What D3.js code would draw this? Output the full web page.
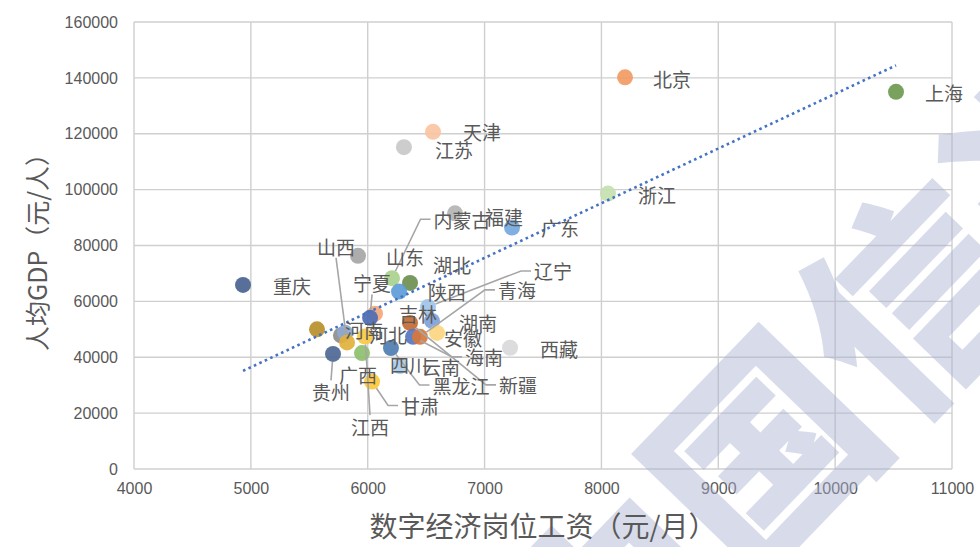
<!DOCTYPE html>
<html>
<head>
<meta charset="utf-8">
<script src="https://cdn.jsdelivr.net/npm/d3@7"></script>
<style>
  html, body { margin: 0; padding: 0; background: #ffffff; }
  svg { display: block; }
</style>
</head>
<body>
<svg id="chart" width="980" height="547"></svg>
<script>
// ---- data ----
const provinces = ["北京","上海","天津","江苏","浙江","福建","广东","重庆","山东","内蒙古",
  "湖北","陕西","吉林","宁夏","辽宁","湖南","新疆","海南","青海","安徽","西藏","河南",
  "河北","四川","山西","江西","贵州","广西","黑龙江","云南","甘肃"];
// 数字经济岗位工资（元/月）
const wages = [8202,10521,6559,6310,8056,6747,7235,4933,5917,6208,
  6362,6268,6062,6020,6516,6550,6362,6388,6447,6593,7218,5566,
  5771,5806,5823,5977,5703,5951,6199,6276,6037];
// 人均GDP（元/人）
const gdpPerCapita = [140200,135000,120700,115200,98600,91500,86400,65900,76300,68300,
  66600,63500,55600,54100,58000,53000,52300,47300,47300,48700,43400,50000,
  47800,48800,45300,47400,41200,41500,43300,36800,31300];
const pointColors = ["#F29B63","#6E9A50","#F8C4A2","#C9C9C9","#C4DFB0","#B4B4B4","#74A9DE","#4A6391","#A6A6A6","#A9D18E",
  "#6D8F50","#5E9CD8","#F4A67A","#4B6DB4","#9FC3E8","#7FA2DB","#C46B32","#5577C0","#D7773C","#FCD580","#D9D9D9","#B8902A",
  "#8D8D8D","#8FA8D0","#E2B13C","#F7C948","#4E6794","#8DC06C","#4E7DB0","#A9CCEA","#FFC83A"];
const xTicks = [4000,5000,6000,7000,8000,9000,10000,11000];
const yTicks = [0,20000,40000,60000,80000,100000,120000,140000,160000];
const xTitle = "数字经济岗位工资（元/月）";
const yTitle = "人均GDP（元/人）";

// ---- label layout: offset of each label centre from its point (px) ----
const labelOffsets = {
  北京:[47,1], 上海:[48,1], 天津:[49,0], 江苏:[50,2], 浙江:[49,1], 福建:[49,3], 广东:[48,0],
  重庆:[49,1], 山东:[47,1], 内蒙古:[70,-59], 湖北:[42,-18], 陕西:[48,0], 吉林:[43,0],
  宁夏:[2,-35], 辽宁:[125,-36], 湖南:[46,2], 新疆:[108,62], 海南:[71,20], 青海:[97,-47],
  安徽:[26,5], 西藏:[49,1], 河南:[47,0], 河北:[47,-1], 四川:[64,32], 山西:[-11,-96],
  江西:[5,90], 贵州:[-2,38], 广西:[-4,21], 黑龙江:[70,37], 云南:[41,0], 甘肃:[48,24]
};
// labels that were moved away from their point get a leader line from this side
const leaderAnchors = {
  内蒙古:"left", 山西:"bottom", 宁夏:"bottom", 辽宁:"left", 青海:"left", 黑龙江:"left",
  新疆:"left", 海南:"left", 贵州:"top", 江西:"top", 甘肃:"left"
};

// ---- layout ----
const W = 980, H = 547;
const plot = { left: 134, right: 952, top: 22, bottom: 469 };
const svg = d3.select("#chart");
const cjk = "'Noto Sans CJK SC', 'Noto Sans', sans-serif";
const textColor = "#595959";

const x = d3.scaleLinear().domain([4000, 11000]).range([plot.left, plot.right]);
const y = d3.scaleLinear().domain([0, 160000]).range([plot.bottom, plot.top]);

svg.append("rect").attr("width", W).attr("height", H).attr("fill", "#ffffff");

// gridlines
const grid = svg.append("g").attr("stroke", "#CFCFCF").attr("stroke-width", 1.4);
grid.selectAll("line.v").data(xTicks).join("line").attr("class", "v")
  .attr("x1", d => x(d)).attr("x2", d => x(d))
  .attr("y1", plot.top).attr("y2", plot.bottom);
grid.selectAll("line.h").data(yTicks).join("line").attr("class", "h")
  .attr("x1", plot.left).attr("x2", plot.right)
  .attr("y1", d => y(d)).attr("y2", d => y(d));

// axes (tick labels only; domain lines coincide with outer gridlines)
const xAxis = d3.axisBottom(x).tickValues(xTicks).tickSize(0).tickPadding(14).tickFormat(d3.format("d"));
const yAxis = d3.axisLeft(y).tickValues(yTicks).tickSize(0).tickPadding(16).tickFormat(d3.format("d"));
const gx = svg.append("g").attr("transform", `translate(0,${plot.bottom})`).call(xAxis);
const gy = svg.append("g").attr("transform", `translate(${plot.left},0)`).call(yAxis);
[gx, gy].forEach(g => {
  g.select(".domain").remove();
  g.selectAll("text").attr("fill", textColor).attr("font-size", 16)
    .attr("font-family", "'Liberation Sans', 'Noto Sans', sans-serif");
});

// watermark (sits under the marks, semi-transparent)
svg.append("text")
  .attr("transform", "translate(598,742) rotate(-46)")
  .attr("font-family", cjk).attr("font-weight", 900).attr("font-size", 215)
  .attr("fill", "#A9B0CE").attr("fill-opacity", 0.45)
  .attr("pointer-events", "none")
  .text("中国信通院");

// points
const data = provinces.map((p, i) => ({ name: p, wage: wages[i], gdp: gdpPerCapita[i], color: pointColors[i] }));
const R = 8;
svg.append("g").selectAll("circle").data(data).join("circle")
  .attr("cx", d => x(d.wage)).attr("cy", d => y(d.gdp)).attr("r", R)
  .attr("fill", d => d.color).attr("fill-opacity", 0.92);

// linear trendline (least squares) across the wage range
const mx = d3.mean(wages), my = d3.mean(gdpPerCapita);
const sxy = d3.sum(wages, (w, i) => (w - mx) * (gdpPerCapita[i] - my));
const sxx = d3.sum(wages, w => (w - mx) * (w - mx));
const slope = sxy / sxx, intercept = my - slope * mx;
const [wMin, wMax] = d3.extent(wages);
svg.append("line")
  .attr("x1", x(wMin)).attr("y1", y(intercept + slope * wMin))
  .attr("x2", x(wMax)).attr("y2", y(intercept + slope * wMax))
  .attr("stroke", "#4472C4").attr("stroke-width", 2.6)
  .attr("stroke-dasharray", "2.6,3.4");

// data labels + leader lines
const labelSize = 19;
const labels = data.map(d => {
  const off = labelOffsets[d.name];
  const w = d.name.length * labelSize;
  return { ...d, px: x(d.wage), py: y(d.gdp), cx: x(d.wage) + off[0], cy: y(d.gdp) + off[1], w };
});
const leaders = svg.append("g").attr("fill", "none").attr("stroke", "#A6A6A6").attr("stroke-width", 1.6);
labels.filter(d => leaderAnchors[d.name]).forEach(d => {
  const side = leaderAnchors[d.name];
  let pts;
  if (side === "left") {
    const sx = d.cx - d.w / 2 - 3;
    pts = [[sx, d.cy], [sx - 10, d.cy]];
  } else if (side === "top") {
    pts = [[d.cx, d.cy - labelSize / 2 - 2]];
  } else {
    pts = [[d.cx, d.cy + labelSize / 2 + 2]];
  }
  const last = pts[pts.length - 1];
  const ang = Math.atan2(last[1] - d.py, last[0] - d.px);
  pts.push([d.px + Math.cos(ang) * R, d.py + Math.sin(ang) * R]);
  leaders.append("path").attr("d", d3.line()(pts));
});
svg.append("g").selectAll("text").data(labels).join("text")
  .attr("x", d => d.cx).attr("y", d => d.cy)
  .attr("text-anchor", "middle").attr("dominant-baseline", "central")
  .attr("font-family", cjk).attr("font-size", labelSize).attr("fill", textColor)
  .text(d => d.name);

// axis titles
svg.append("text").attr("x", (plot.left + plot.right) / 2).attr("y", 525)
  .attr("text-anchor", "middle").attr("dominant-baseline", "central")
  .attr("font-family", cjk).attr("font-size", 28).attr("fill", textColor).text(xTitle);
svg.append("text").attr("transform", "translate(36,246) rotate(-90)")
  .attr("text-anchor", "middle").attr("dominant-baseline", "central")
  .attr("font-family", cjk).attr("font-size", 25).attr("fill", textColor).text(yTitle);
</script>
</body>
</html>
